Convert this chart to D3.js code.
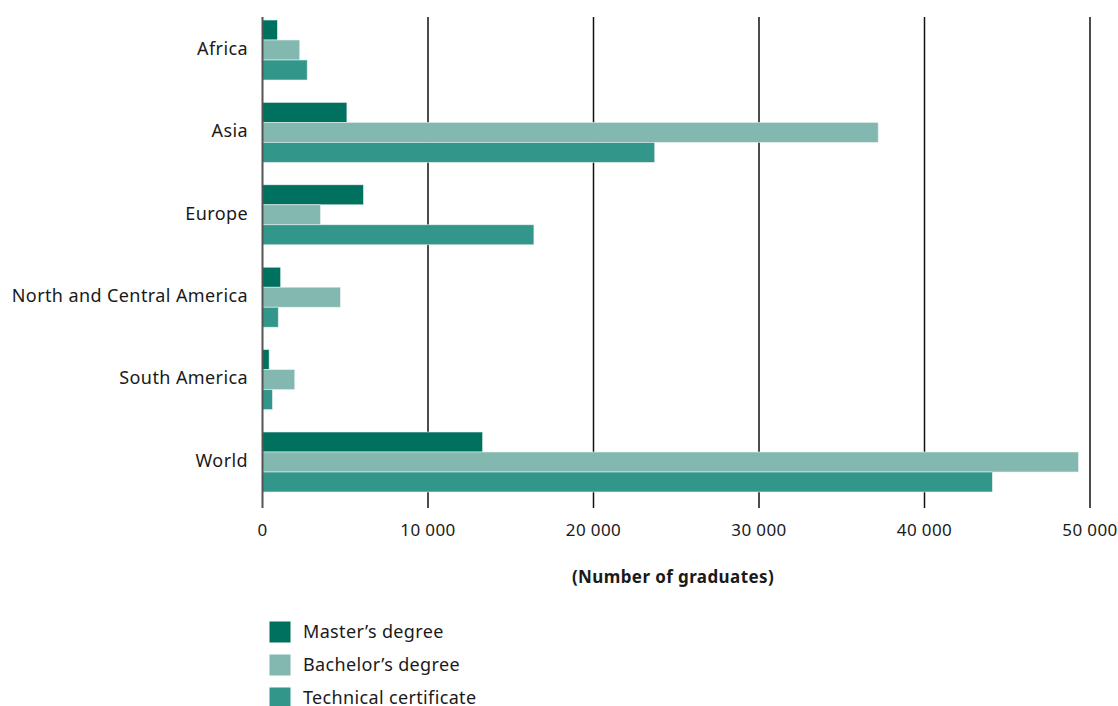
<!DOCTYPE html>
<html><head><meta charset="utf-8">
<script src="https://cdn.jsdelivr.net/npm/d3@7"></script>
<style>body{margin:0;background:#fff;font-family:"Noto Sans",sans-serif;}</style>
</head><body><svg id="c" width="1118" height="706"></svg>
<script>
const categories = ["Africa","Asia","Europe","North and Central America","South America","World"];
const seriesNames = ["Master\u2019s degree","Bachelor\u2019s degree","Technical certificate"];
const master = [900, 5100, 6100, 1100, 400, 13300];
const bachelor = [2250, 37200, 3500, 4700, 1950, 49300];
const technical = [2700, 23700, 16400, 950, 600, 44100];
const tickValues = [0, 10000, 20000, 30000, 40000, 50000];
const colors = ["#00715f", "#82b8af", "#33968a"];
const values = [master, bachelor, technical];

const svg = d3.select("#c");
const x = d3.scaleLinear().domain([0, 50000]).range([262.5, 1090]);
const y = d3.scaleBand().domain(categories).range([8.8, 503.2]).paddingInner(0.272).paddingOuter(0.136);
const y1 = d3.scaleBand().domain(d3.range(3)).range([0, y.bandwidth()]);
const plotTop = 17, plotBottom = 508;

// grid lines
svg.append("g").selectAll("line").data(tickValues.slice(1)).join("line")
  .attr("x1", d => x(d)).attr("x2", d => x(d)).attr("y1", plotTop).attr("y2", plotBottom)
  .attr("stroke", "#111").attr("stroke-width", 1.5);

// bars
const g = svg.append("g");
categories.forEach((c, i) => {
  values.forEach((arr, s) => {
    g.append("rect")
      .attr("x", x(0)).attr("y", y(c) + y1(s))
      .attr("width", x(arr[i]) - x(0)).attr("height", y1.bandwidth())
      .attr("fill", colors[s]).attr("stroke", "#e6f0ee").attr("stroke-width", 0.6);
  });
});

// y axis line
svg.append("line").attr("x1", x(0)).attr("x2", x(0)).attr("y1", plotTop).attr("y2", plotBottom)
  .attr("stroke", "#555").attr("stroke-width", 2);

// category labels
svg.append("g").selectAll("text").data(categories).join("text")
  .attr("x", 248).attr("y", d => y(d) + y.bandwidth() / 2 - 1.5)
  .attr("dy", "0.35em").attr("text-anchor", "end")
  .attr("font-size", 18).attr("letter-spacing", "0.4px").attr("fill", "#1a1a1a").text(d => d);

// x tick labels
const fmt = v => d3.format(",")(v).replace(/,/g, " ");
svg.append("g").selectAll("text").data(tickValues).join("text")
  .attr("x", d => x(d)).attr("y", 536).attr("text-anchor", "middle")
  .attr("font-size", 17).attr("letter-spacing", "0.4px").attr("fill", "#1a1a1a").text(d => fmt(d));

// axis title
svg.append("text").attr("x", 673).attr("y", 583).attr("text-anchor", "middle")
  .attr("font-size", 17).attr("letter-spacing", "0.4px").attr("font-weight", "bold").attr("fill", "#1a1a1a")
  .text("(Number of graduates)");

// legend
const lg = svg.append("g");
seriesNames.forEach((n, i) => {
  lg.append("rect").attr("x", 269.5).attr("y", 621.5 + i * 33).attr("width", 21).attr("height", 21)
    .attr("fill", colors[i]);
  lg.append("text").attr("x", 303).attr("y", 632 + i * 33).attr("dy", "0.35em")
    .attr("font-size", 18).attr("letter-spacing", "0.35px").attr("fill", "#1a1a1a").text(n);
});
</script></body></html>
